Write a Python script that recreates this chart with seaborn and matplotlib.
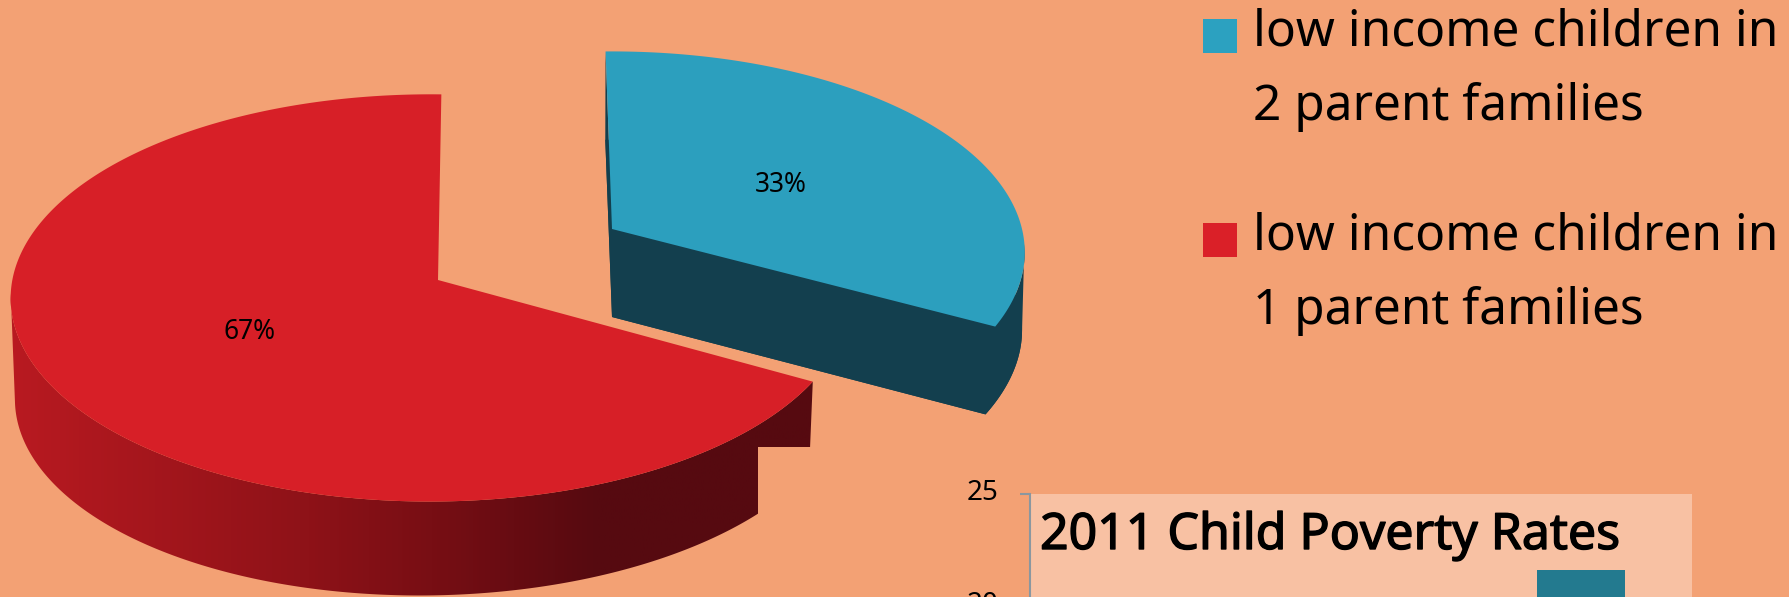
import numpy as np
import matplotlib
matplotlib.use("Agg")
import matplotlib.pyplot as plt
import matplotlib.patheffects as pe
from matplotlib.patches import Polygon, Rectangle
from matplotlib.colors import LinearSegmentedColormap
from matplotlib.transforms import ScaledTranslation
import pandas as pd
import seaborn as sns

# ---- data ----
pie_labels = ["low income children in\n2 parent families",
              "low income children in\n1 parent families"]
pie_values = [33, 67]
bar_title = "2011 Child Poverty Rates"
bar_categories = ["2011"]
bar_values = [21.6]
bar_ticks = [20, 25]

# ---- style ----
BG = "#F3A174"
PANEL = "#F8C1A3"
BLUE_TOP, BLUE_WALL = "#2C9FBE", "#133F4E"
RED_TOP = "#D71F27"
BAR = "#237A8F"
FONT = "Noto Sans"

sns.set_theme(style="white", rc={"figure.facecolor": BG, "savefig.facecolor": BG})
plt.rcParams["font.family"] = [FONT, "DejaVu Sans"]

W, H = 1789, 597
fig = plt.figure(figsize=(W / 100, H / 100), dpi=100)
ax = fig.add_axes([0, 0, 1, 1])
ax.set_xlim(0, W)
ax.set_ylim(H, 0)
ax.axis("off")

# projected pie geometry: a tilted circle seen in perspective
blue_geo = dict(cx=612, cy=229, R=410, A=198, k=0.115, j=0.0, rot=-1.0,
                dep=88, f=0.998, fv=0.05, bdx=0, tilt=0.0, lab=(-1, 6))
red_geo = dict(cx=438, cy=280, R=418, A=202, k=0.088, j=0.018, rot=0.5,
               dep=96, f=0.99, fv=0.0, bdx=0, tilt=-0.012, lab=(-2, 0))


def project(deg, g, r=1.0, bottom=False):
    t = np.radians(np.asarray(deg, dtype=float) + g["rot"])
    u, v = r * np.sin(t), r * np.cos(t)
    den = 1 + g["k"] * v + g["j"] * u
    dx, dy = g["R"] * u / den, -g["A"] * v / den
    if bottom:
        return (g["cx"] + g["bdx"] + (g["f"] + g["fv"] * v) * dx,
                g["cy"] + g["dep"] + g["f"] * dy + g["tilt"] * dx)
    return g["cx"] + dx, g["cy"] + dy


fracs = np.array(pie_values, dtype=float) / sum(pie_values)
edges = np.concatenate([[0], np.cumsum(fracs) * 360])

# --- blue slice ---
a0, a1 = edges[0], edges[1]
th = np.linspace(a0, a1, 300)
bx, by = project(th, blue_geo)
lx, ly = project(th, blue_geo, bottom=True)
cx, cy = blue_geo["cx"], blue_geo["cy"]
cbx, cby = cx + blue_geo["bdx"], cy + blue_geo["dep"]
wall_kw = dict(closed=True, fc=BLUE_WALL, ec="none", zorder=2)
ax.add_patch(Polygon(np.vstack([np.c_[lx, ly], [[cbx, cby]]]), **wall_kw))
top_part = th >= 95        # outer edge runs straight from the top rim to the lower rim
low_part = th >= 96
ax.add_patch(Polygon(np.vstack([np.c_[bx[top_part], by[top_part]],
                                np.c_[lx[low_part], ly[low_part]][::-1]]), **wall_kw))
ax.add_patch(Polygon(np.array([[cx, cy], [bx[-1], by[-1]], [lx[-1], ly[-1]], [cbx, cby]]), **wall_kw))
ax.add_patch(Polygon(np.array([[cx, cy], [bx[0], by[0]], [lx[0], ly[0]], [cbx, cby]]), **wall_kw))
ax.add_patch(Polygon(np.vstack([[[cx, cy]], np.c_[bx, by]]), closed=True,
                     fc=BLUE_TOP, ec="none", zorder=3))

# --- red slice ---
a0, a1 = edges[1], edges[2]
th = np.linspace(a0, a1, 500)
rx, ry = project(th, red_geo)
tx, ty = project(th[th <= 266], red_geo)
ux, uy = project(th[th <= 264], red_geo, bottom=True)
rim = np.vstack([np.c_[tx, ty], np.c_[ux, uy][::-1]])
clip = Polygon(rim, closed=True, transform=ax.transData, fc="none", ec="none")
ax.add_patch(clip)
grad_cmap = LinearSegmentedColormap.from_list(
    "wall", [(0.0, "#BA1A21"), (0.37, "#8E1218"), (0.52, "#780E14"),
             (0.72, "#560A10"), (1.0, "#560A10")])
img = ax.imshow(np.linspace(0, 1, 400)[None, :], extent=(0, 830, 600, 250),
                cmap=grad_cmap, aspect="auto", zorder=2)
img.set_clip_path(clip)
ax.set_xlim(0, W)
ax.set_ylim(H, 0)
# the reference has a stepped cut in the lower end of the wall
ax.add_patch(Rectangle((758, 447), 70, 90, fc=BG, ec="none", zorder=2.5))
ax.add_patch(Polygon(np.vstack([[[red_geo["cx"], red_geo["cy"]]], np.c_[rx, ry]]),
                     closed=True, fc=RED_TOP, ec="none", zorder=3))

# --- percentage labels at mid-slice ---
for val, g, lo, hi in [(pie_values[0], blue_geo, edges[0], edges[1]),
                       (pie_values[1], red_geo, edges[1], edges[2])]:
    px, py = project((lo + hi) / 2, g, r=0.5)
    ax.text(px + g["lab"][0], py + g["lab"][1], f"{val}%", ha="center", va="center",
            fontsize=19, color="black", zorder=5)

# --- legend ---
for y_box, y_text, col, lab in [(19, 46, "#2CA1C0", pie_labels[0]),
                                (223, 250, "#DA2028", pie_labels[1])]:
    ax.add_patch(Rectangle((1203, y_box), 34, 34, fc=col, ec="none", zorder=3))
    line1, line2 = lab.split("\n")
    ax.text(1253, y_text, line1, fontsize=35.7, va="baseline", ha="left", color="black")
    ax.text(1253, y_text + 74, line2, fontsize=35.7, va="baseline", ha="left", color="black")

# --- bar chart (runs past the bottom edge of the picture) ---
px_per_unit = 112 / 5
top = 494
bottom = top + px_per_unit * bar_ticks[-1]
ax2 = fig.add_axes([1030 / W, 1 - bottom / H, 662 / W, (bottom - top) / H])
df = pd.DataFrame({"cat": bar_categories, "val": bar_values})
sns.barplot(data=df, x="cat", y="val", ax=ax2, color=BAR, saturation=1, width=0.8,
            edgecolor="none", linewidth=0)
ax2.set_facecolor(PANEL)
ax2.set_ylim(0, bar_ticks[-1])
ax2.set_xlim(-(1581 - 1030) / 111, (1692 - 1581) / 111)
ax2.set_yticks(bar_ticks)
ax2.set_xlabel("")
ax2.set_ylabel("")
ax2.set_xticks([])
for s in ["top", "right", "bottom"]:
    ax2.spines[s].set_visible(False)
ax2.spines["left"].set_color("#8A97A0")
ax2.spines["left"].set_linewidth(1.5)
ax2.tick_params(axis="y", left=True, length=7, width=1.5, color="#8A97A0",
                labelsize=20, pad=16, labelcolor="black")
shift = ScaledTranslation(0, 3 / 72, fig.dpi_scale_trans)
for lab in ax2.get_yticklabels():
    lab.set_transform(lab.get_transform() + shift)
ax2.text(1040, 549, bar_title, transform=ax.transData, fontsize=36,
         va="baseline", ha="left", color="black", zorder=6, clip_on=False,
         path_effects=[pe.withStroke(linewidth=1.0, foreground="black")])

fig.savefig("out.png", dpi=100)
